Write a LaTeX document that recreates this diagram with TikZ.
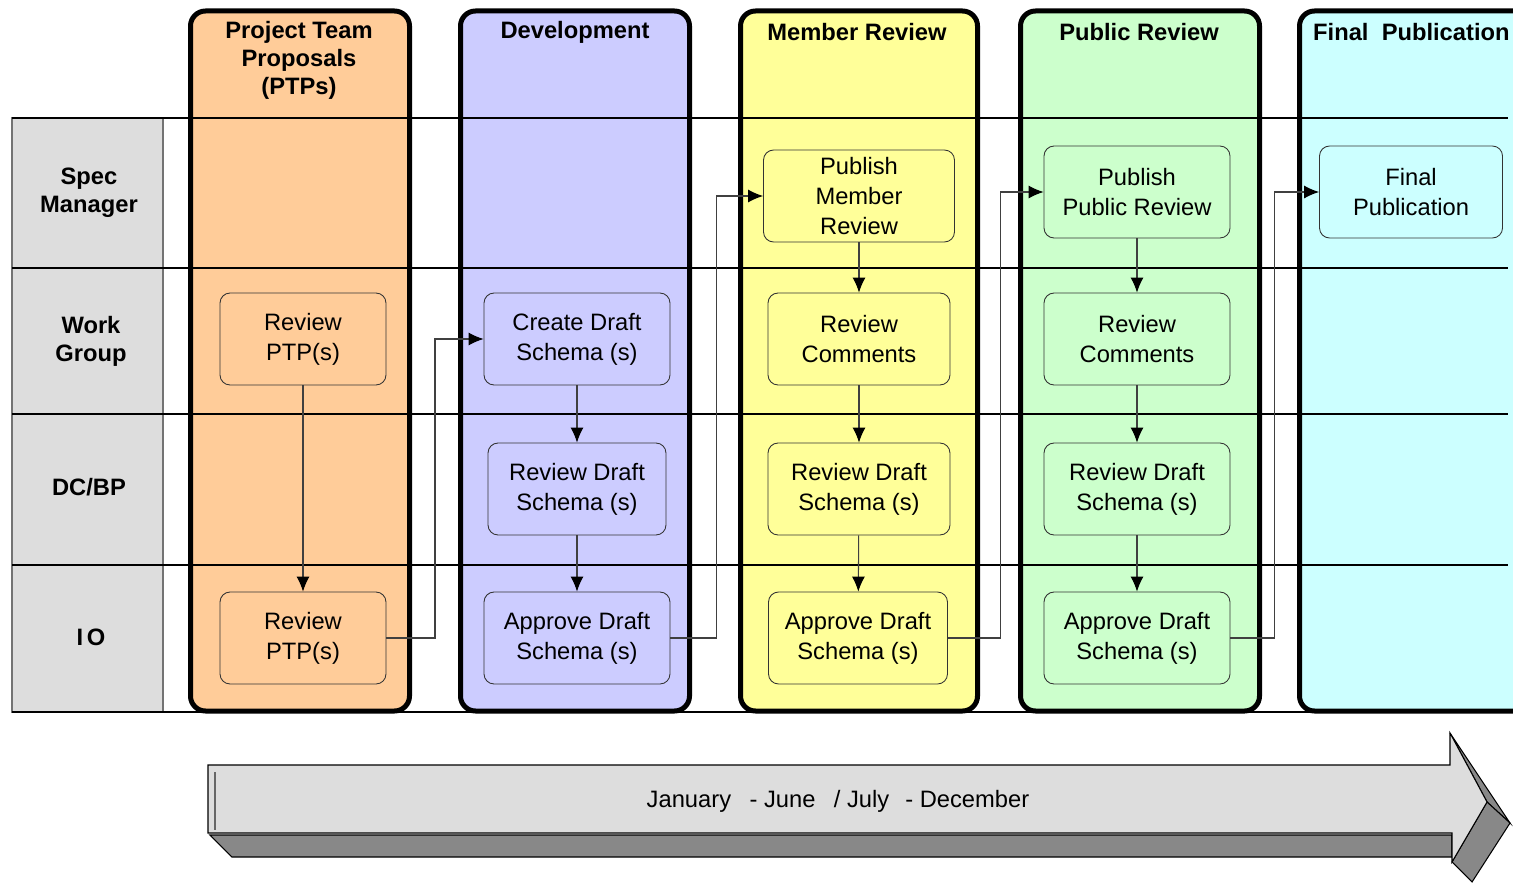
\documentclass[tikz,border=0pt]{standalone}
\usepackage{fontspec}
\setmainfont{Liberation Sans}
\usetikzlibrary{calc, positioning, arrows.meta}

\definecolor{ptpfill}{HTML}{FFCC99}
\definecolor{devfill}{HTML}{CCCCFF}
\definecolor{memfill}{HTML}{FFFF99}
\definecolor{pubfill}{HTML}{CCFFCC}
\definecolor{finfill}{HTML}{CCFFFF}
\definecolor{cellgray}{HTML}{DDDDDD}
\definecolor{facegray}{HTML}{888888}

\begin{document}
\begin{tikzpicture}[x=0.02cm, y=-0.02cm,
  >={Latex[length=0.3cm,width=0.26cm,color=black]},
  lane/.style={line width=0.1cm, rounded corners=0.3cm},
  cell/.style={fill=cellgray, draw=black!55, line width=0.6pt},
  rowline/.style={line width=0.6pt},
  task/.style={draw=black!80, line width=0.5pt, rounded corners=0.2cm, align=center,
    inner sep=1pt, minimum height=1.84cm, font=\fontsize{13.5}{17}\selectfont},
  head/.style={align=center, font=\bfseries\fontsize{13.5}{16}\selectfont},
  link/.style={->, draw=black!75, line width=0.6pt}]
  \useasboundingbox (0,0) rectangle (1513,892);
  \clip (0,0) rectangle (1513,892);

  % phase columns
  \filldraw [lane, fill=ptpfill] (190.5,11) rectangle (409.5,711);
  \filldraw [lane, fill=devfill] (460.5,11) rectangle (689.5,711);
  \filldraw [lane, fill=memfill] (740.5,11) rectangle (977.5,711);
  \filldraw [lane, fill=pubfill] (1020.5,11) rectangle (1259.5,711);
  \filldraw [lane, fill=finfill] (1299.5,11) rectangle (1560,711);

  % role cells and row lines
  \foreach \ya/\yb in {118/268, 268/414, 414/565, 565/712}
    \draw [cell] (12,\ya) rectangle (163,\yb);
  \foreach \y in {118,268,414,565,712}
    \draw [rowline] (12,\y) -- (1508,\y);

  % headers
  \node [head] (hptp) at (299,60) {Project Team\\Proposals\\(PTPs)};
  \node [head] (hdev) at (575,32) {Development};
  \node [head] (hmem) at (857,32) {Member Review};
  \node [head] (hpub) at (1139,32) {Public Review};
  \node [head, anchor=west] (hfin) at (1307,32) {Final\ \ Publication};

  \node [head] (lspec) at (89,193) {Spec\\Manager};
  \node [head] (lwork) at (91,341) {Work\\Group};
  \node [head] (ldcbp) at (89,487) {DC/BP};
  \node [head] (lio) at (91,637) {I\kern2pt O};

  % tasks
  \node [task, minimum width=3.32cm] (ptpwg) at (303,339) {Review\\PTP(s)};
  \node [task, minimum width=3.32cm] (ptpio) at (303,638) {Review\\PTP(s)};
  \node [task, minimum width=3.72cm] (devcreate) at (577,339) {Create Draft\\Schema (s)};
  \node [task, minimum width=3.56cm] (devreview) at (577,489) {Review Draft\\Schema (s)};
  \node [task, minimum width=3.72cm] (devapprove) at (577,638) {Approve Draft\\Schema (s)};
  \node [task, minimum width=3.82cm] (mempub) at (859,196) {Publish\\Member\\Review};
  \node [task, minimum width=3.64cm] (memcomm) at (859,339) {Review\\Comments};
  \node [task, minimum width=3.64cm] (memreview) at (859,489) {Review Draft\\Schema (s)};
  \node [task, minimum width=3.58cm] (memapprove) at (858,638) {Approve Draft\\Schema (s)};
  \node [task, minimum width=3.72cm] (pubpub) at (1137,192) {Publish\\Public Review};
  \node [task, minimum width=3.72cm] (pubcomm) at (1137,339) {Review\\Comments};
  \node [task, minimum width=3.72cm] (pubreview) at (1137,489) {Review Draft\\Schema (s)};
  \node [task, minimum width=3.72cm] (pubapprove) at (1137,638) {Approve Draft\\Schema (s)};
  \node [task, minimum width=3.66cm] (finpub) at (1411,192) {Final\\Publication};

  % flow inside phases
  \draw [link] (ptpwg) -- (ptpio);
  \draw [link] (devcreate) -- (devreview);
  \draw [link] (devreview) -- (devapprove);
  \draw [link] (mempub) -- (memcomm);
  \draw [link] (memcomm) -- (memreview);
  \draw [link] (memreview) -- (memapprove);
  \draw [link] (pubpub) -- (pubcomm);
  \draw [link] (pubcomm) -- (pubreview);
  \draw [link] (pubreview) -- (pubapprove);

  % flow between phases
  \draw [link] (ptpio.east) -| ($(ptpio.east)!.5!(devcreate.west)$) |- (devcreate.west);
  \draw [link] (devapprove.east) -| ($(devapprove.east)!.5!(mempub.west)$) |- (mempub.west);
  \draw [link] (memapprove.east) -| ($(memapprove.east)!.55!(pubpub.west)$) |- (pubpub.west);
  \draw [link] (pubapprove.east) -| ($(pubapprove.east)!.5!(finpub.west)$) |- (finpub.west);

  % time line arrow
  \filldraw [fill=facegray, draw=black, line width=0.6pt]
    (210,835) -- (232,857) -- (1452,857) -- (1452,835) -- cycle;
  \filldraw [fill=facegray, draw=black, line width=0.6pt]
    (1450,733) -- (1510,823) -- (1487,802) -- cycle;
  \filldraw [fill=facegray, draw=black, line width=0.6pt]
    (1487,802) -- (1510,823) -- (1472,882) -- (1452,862) -- cycle;
  \filldraw [fill=cellgray, draw=black, line width=0.6pt]
    (208,765) -- (1450,765) -- (1450,733) -- (1487,802) -- (1452,862)
    -- (1452,833) -- (208,833) -- cycle;
  \draw [black!60, line width=0.8pt] (215,772) -- (215,830);
  \node [font=\fontsize{13.5}{16}\selectfont] (tltext) at (838,801)
    {January\hspace{0.5em} - June\hspace{0.5em} / July\hspace{0.4em} - December};
\end{tikzpicture}
\end{document}
